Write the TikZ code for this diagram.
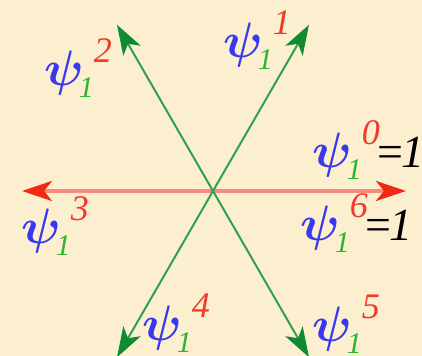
\documentclass[tikz,border=0pt]{standalone}
\usepackage{fontspec}
\usepackage{amsmath}
\setmainfont{Liberation Serif}
\usetikzlibrary{arrows.meta}
\definecolor{bgcream}{HTML}{FCEFD0}
\definecolor{psiblue}{HTML}{3838F0}
\definecolor{idxgreen}{HTML}{2DB42D}
\definecolor{supred}{HTML}{F03A2A}
\definecolor{armgreen}{HTML}{30A050}
\definecolor{tipgreen}{HTML}{0F8C32}
\definecolor{armred}{HTML}{F88A80}
\definecolor{tipred}{HTML}{F02814}

% psi with green index and red power
\newcommand{\psiw}[1]{%
  \textcolor{psiblue}{\fontsize{23}{25}\selectfont$\boldsymbol{\psi}$}\kern-2.5pt%
  \textcolor{idxgreen}{\raisebox{-6pt}{\fontsize{15}{16}\selectfont\textit{1}}}%
  \textcolor{supred}{\raisebox{11.5pt}{\fontsize{18}{19}\selectfont\textit{#1}}}}
\newcommand{\eqone}{{\fontsize{23}{25}\selectfont\kern-1pt=\kern-1pt\textit{1}}}

\begin{document}
\begin{tikzpicture}[
    x=0.5pt, y=0.5pt,
    greenarm/.style={armgreen, line width=1pt,
      -{Stealth[length=15pt, width=10pt, inset=4pt, color=tipgreen]}},
    redarm/.style={armred, line width=1.8pt,
      -{Stealth[length=15pt, width=10pt, inset=4pt, color=tipred]}},
    psilabel/.style={anchor=base west, inner sep=0pt},
  ]

  % Background
  \useasboundingbox (-213,-165) rectangle (209,191);
  \fill[bgcream] (-213,-165) rectangle (209,191);

  % Centre and arrow ends
  \coordinate (o) at (0,0);
  \coordinate (e0) at (0:193);
  \coordinate (e1) at (60:192);
  \coordinate (e2) at (120:192);
  \coordinate (e3) at (180:191);
  \coordinate (e4) at (240:192);
  \coordinate (e5) at (300:192);

  % Arrows
  \draw[redarm] (o) -- (e0);
  \draw[redarm] (o) -- (e3);
  \draw[greenarm] (o) -- (e1);
  \draw[greenarm] (o) -- (e2);
  \draw[greenarm] (o) -- (e4);
  \draw[greenarm] (o) -- (e5);

  % Labels
  \node[psilabel] (l0) at (99,23) {\psiw{0}\eqone};
  \node[psilabel] (l1) at (10,133) {\psiw{1}};
  \node[psilabel] (l2) at (-169,105) {\psiw{2}};
  \node[psilabel] (l3) at (-192,-53) {\psiw{3}};
  \node[psilabel] (l4) at (-71,-150) {\psiw{4}};
  \node[psilabel] (l5) at (99,-151) {\psiw{5}};
  \node[psilabel] (l6) at (87,-50) {\psiw{6}\eqone};

\end{tikzpicture}
\end{document}
